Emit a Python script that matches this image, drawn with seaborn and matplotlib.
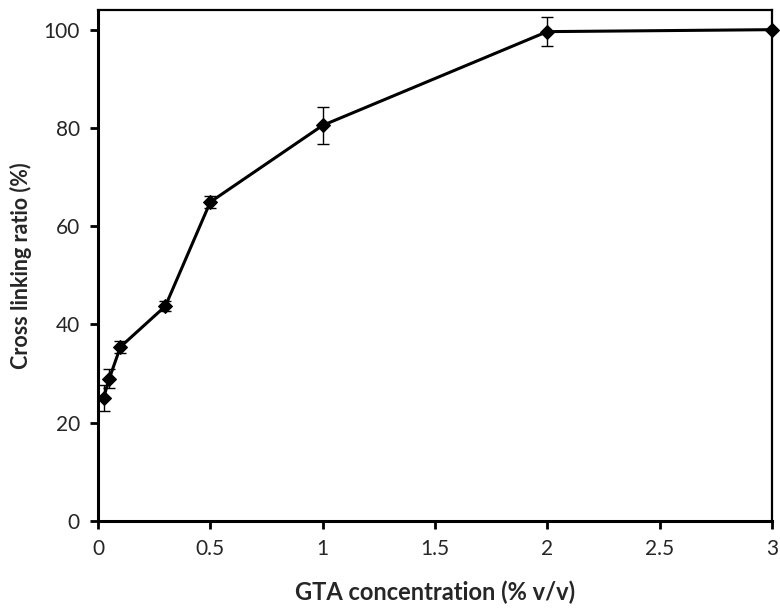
import matplotlib
matplotlib.use("Agg")
import matplotlib.pyplot as plt
import pandas as pd
import seaborn as sns

# GTA concentration vs cross linking ratio
gta_conc = [0.025, 0.05, 0.1, 0.3, 0.5, 1, 2, 3]
cross_link = [25.0, 28.9, 35.4, 43.7, 64.9, 80.5, 99.6, 100.0]
cross_err = [2.6, 1.9, 1.3, 1.0, 1.2, 3.8, 2.9, 0.0]

x_ticks = [0, 0.5, 1, 1.5, 2, 2.5, 3]
x_tick_labels = ["0", "0.5", "1", "1.5", "2", "2.5", "3"]
y_ticks = [0, 20, 40, 60, 80, 100]

df = pd.DataFrame({"conc": gta_conc, "ratio": cross_link, "err": cross_err})

sns.set_style("white")
plt.rcParams['font.family'] = ['Lato', 'DejaVu Sans']

fig = plt.figure(figsize=(7.8, 6.15), dpi=100)
ax = fig.add_axes([0.1256, 0.1533, 0.864, 0.8304])

ax.errorbar(df["conc"], df["ratio"], yerr=df["err"], fmt="none",
            ecolor="black", elinewidth=1, capsize=4, capthick=1, zorder=2)
sns.lineplot(data=df, x="conc", y="ratio", ax=ax, color="black",
             linewidth=2.2, marker="D", markersize=7, markeredgecolor="black",
             zorder=3, clip_on=False)

ax.set_xlim(0, 3)
ax.set_ylim(0, 104)
ax.set_xticks(x_ticks)
ax.set_xticklabels(x_tick_labels)
ax.set_yticks(y_ticks)

for side in ["left", "bottom"]:
    ax.spines[side].set_linewidth(2.2)
    ax.spines[side].set_color("black")
for side in ["top", "right"]:
    ax.spines[side].set_linewidth(1.6)
    ax.spines[side].set_color("black")

ax.tick_params(axis="both", direction="out", length=6, width=2,
               color="black", labelsize=15, pad=7,
               bottom=True, left=True, top=False, right=False)

ax.set_xlabel("GTA concentration (% v/v)", fontsize=17, fontweight="bold", labelpad=16)
ax.set_ylabel("Cross linking ratio (%)", fontsize=15.5, fontweight="bold", labelpad=8)

fig.savefig("out.png", dpi=100)
